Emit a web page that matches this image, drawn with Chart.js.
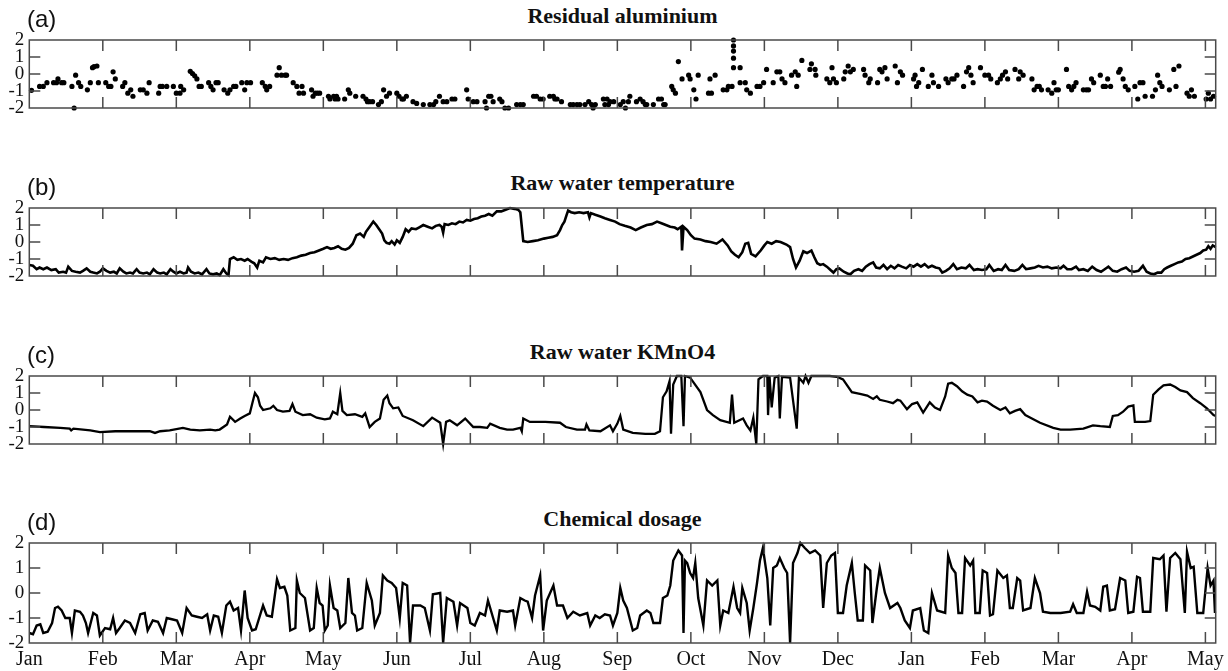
<!DOCTYPE html>
<html>
<head>
<meta charset="utf-8">
<script src="https://cdn.jsdelivr.net/npm/chart.js@4.4.0/dist/chart.umd.min.js"></script>
<style>
  body { margin: 0; background: #fff; width: 1228px; height: 671px; overflow: hidden; position: relative; }
  canvas { position: absolute; left: 0; }
  .title { position: absolute; left: 29.3px; width: 1186.4px; text-align: center; font: bold 22px "Liberation Serif", "Times New Roman", serif; line-height: 22px; color: #111; }
  .tag { position: absolute; left: 27px; font: 24px "Liberation Sans", Arial, sans-serif; line-height: 24px; color: #111; }
</style>
</head>
<body>
<script>
// x = months since the first January, y = standardised value
var monthNames = ["Jan","Feb","Mar","Apr","May","Jun","Jul","Aug","Sep","Oct","Nov","Dec","Jan","Feb","Mar","Apr","May"];
var yTicks = [-2, -1, 0, 1, 2];
var titles = ["Residual aluminium", "Raw water temperature", "Raw water KMnO4", "Chemical dosage"];
var tags = ["(a)", "(b)", "(c)", "(d)"];

var alumPoints = [[0.03,-0.96],[0.14,-0.73],[0.19,-0.73],[0.24,-0.51],[0.33,-0.51],[0.37,-0.51],[0.39,-0.29],[0.44,-0.51],[0.47,-0.51],[0.58,-0.73],[0.61,-2.0],[0.63,-0.07],[0.67,-0.51],[0.70,-0.73],[0.79,-0.93],[0.83,-0.51],[0.86,0.37],[0.88,0.43],[0.92,0.47],[0.94,-0.51],[1.04,-0.51],[1.08,-0.73],[1.11,-0.73],[1.14,0.13],[1.17,-0.29],[1.27,-0.73],[1.30,-0.51],[1.34,-1.13],[1.38,-0.93],[1.41,-1.31],[1.51,-0.93],[1.55,-0.93],[1.60,-1.13],[1.63,-0.51],[1.76,-1.13],[1.78,-0.73],[1.81,-0.73],[1.87,-0.73],[1.96,-0.73],[2.00,-1.13],[2.05,-1.13],[2.06,-0.73],[2.10,-0.93],[2.19,0.16],[2.22,0.03],[2.25,-0.11],[2.28,-0.29],[2.31,-0.73],[2.34,-0.73],[2.44,-0.51],[2.47,-0.73],[2.50,-0.93],[2.54,-0.51],[2.57,-0.51],[2.65,-0.93],[2.70,-1.13],[2.73,-0.93],[2.78,-0.73],[2.81,-0.73],[2.89,-0.51],[2.93,-0.93],[2.96,-0.51],[3.01,-0.51],[3.17,-0.51],[3.21,-0.73],[3.23,-0.93],[3.27,-0.73],[3.37,-0.07],[3.40,0.37],[3.43,-0.07],[3.48,-0.07],[3.50,-0.07],[3.59,-0.51],[3.64,-0.73],[3.67,-1.13],[3.71,-0.73],[3.73,-1.13],[3.84,-0.93],[3.86,-1.31],[3.89,-1.13],[3.92,-1.13],[3.95,-1.13],[4.07,-1.31],[4.09,-1.47],[4.14,-1.31],[4.16,-1.47],[4.18,-1.31],[4.20,-1.47],[4.29,-1.47],[4.34,-0.93],[4.36,-1.13],[4.44,-1.31],[4.54,-1.31],[4.58,-1.47],[4.60,-1.63],[4.63,-1.63],[4.67,-1.63],[4.75,-1.80],[4.79,-1.63],[4.82,-0.93],[4.86,-1.31],[4.90,-1.13],[5.00,-1.13],[5.03,-1.31],[5.07,-1.47],[5.09,-1.47],[5.13,-1.31],[5.22,-1.63],[5.27,-1.73],
  [5.36,-1.8],[5.45,-1.8],[5.50,-1.8],[5.53,-1.63],[5.58,-1.31],[5.63,-1.63],[5.68,-1.63],[5.75,-1.47],[5.79,-1.47],[5.95,-0.93],[5.97,-1.47],[6.04,-1.63],[6.09,-1.63],[6.20,-1.63],[6.22,-2.0],[6.25,-1.31],[6.28,-1.31],[6.31,-1.63],[6.40,-1.47],[6.43,-1.63],[6.47,-2.0],[6.52,-2.0],[6.63,-1.8],[6.68,-1.8],[6.72,-1.8],[6.86,-1.31],[6.90,-1.31],[6.95,-1.47],[6.99,-1.47],[7.08,-1.31],[7.13,-1.31],[7.15,-1.47],[7.18,-1.47],[7.24,-1.63],[7.36,-1.8],[7.40,-1.8],[7.45,-1.8],[7.49,-1.8],[7.56,-1.8],[7.61,-1.63],[7.65,-1.8],[7.67,-2.0],[7.70,-1.8],[7.81,-1.47],[7.83,-1.8],[7.86,-1.47],[7.88,-1.8],[7.90,-1.63],[7.95,-1.63],[8.04,-1.8],[8.08,-1.63],[8.11,-2.0],[8.15,-1.63],[8.17,-1.31],[8.26,-1.63],[8.31,-1.47],[8.35,-1.63],[8.38,-1.8],[8.40,-1.8],[8.49,-1.8],[8.56,-1.47],[8.60,-1.47],[8.63,-1.8],[8.65,-1.8],[8.74,-0.73],[8.76,-0.93],[8.79,-1.13],[8.83,0.73],[8.88,-0.29],[8.97,-0.07],[8.99,-0.29],[9.04,-0.93],[9.07,-1.47],[9.10,-0.07],[9.24,-1.13],[9.26,-0.29],[9.28,-1.13],[9.33,-0.07],[9.44,-0.93],[9.49,-0.93],[9.51,-0.73],[9.56,-0.73],[9.58,2.0],[9.58,1.65],[9.58,1.35],[9.58,0.93],[9.58,0.37],[9.67,0.37],[9.67,-0.51],[9.74,-0.51],[9.76,-0.93],[9.81,-1.13],[9.90,-0.73],[9.94,-0.73],[9.99,-0.51],[10.03,0.27],[10.12,-0.51],[10.17,0.13],[10.21,0.13],[10.24,-0.29],[10.28,-0.51],[10.37,-0.07],[10.42,0.13],[10.44,-0.73],[10.46,-0.07],
  [10.51,0.8],[10.62,0.27],[10.64,0.6],[10.69,0.27],[10.70,-0.07],[10.85,-0.29],[10.89,-0.51],[10.92,0.37],[10.94,-0.29],[10.98,-0.51],[11.08,-0.29],[11.10,0.13],[11.14,0.47],[11.17,0.13],[11.21,0.27],[11.35,0.27],[11.37,-0.07],[11.42,-0.51],[11.44,-0.29],[11.54,-0.51],[11.57,0.27],[11.60,0.13],[11.64,0.37],[11.67,-0.29],[11.78,0.47],[11.81,-0.51],[11.85,0.13],[11.88,-0.07],[12.03,-0.29],[12.05,-0.07],[12.07,-0.73],[12.10,-0.51],[12.15,0.27],[12.23,-0.73],[12.28,-0.07],[12.30,-0.51],[12.37,-0.73],[12.47,-0.29],[12.50,-0.51],[12.55,-0.29],[12.58,-0.29],[12.62,-0.07],[12.71,-0.73],[12.75,0.13],[12.78,0.37],[12.81,-0.07],[12.84,-0.51],[12.94,0.37],[13.00,-0.07],[13.05,-0.07],[13.08,-0.29],[13.17,-0.51],[13.21,-0.29],[13.24,-0.07],[13.28,0.13],[13.31,-0.29],[13.41,0.27],[13.46,-0.29],[13.48,0.13],[13.52,-0.07],[13.64,-0.29],[13.67,-0.93],[13.71,-0.73],[13.74,-0.73],[13.77,-0.93],[13.86,-0.93],[13.91,-1.13],[13.94,-0.51],[13.97,-0.93],[14.00,-0.93],[14.11,0.27],[14.14,-0.73],[14.18,-0.93],[14.21,-0.73],[14.24,-0.51],[14.34,-0.93],[14.38,-0.93],[14.41,-0.93],[14.45,-0.29],[14.48,-0.51],[14.57,-0.07],[14.61,-0.73],[14.64,-0.73],[14.67,-0.29],[14.71,-0.73],[14.82,0.11],[14.84,0.27],[14.88,-0.29],[14.91,-0.73],[14.95,-0.93],[15.04,-0.73],[15.08,-1.47],[15.11,-0.51],[15.15,-0.51],[15.18,-1.31],[15.28,-1.31],[15.32,-0.93],[15.35,-0.07],[15.38,-0.51],[15.41,-0.73],[15.51,-0.93],[15.57,0.27],[15.60,-0.73],[15.64,0.47],[15.75,-1.13],[15.78,-1.31],[15.81,-0.93],[15.85,-1.31],[16.01,-1.47],[16.04,-1.13],[16.07,-1.47],[16.11,-1.31]];

var tempPoints = [[0,-1.35],[0.05,-1.4],[0.1,-1.6],[0.14,-1.5],[0.19,-1.6],[0.24,-1.5],[0.3,-1.65],[0.36,-1.6],[0.4,-1.8],[0.46,-1.75],[0.5,-1.8],[0.53,-1.45],[0.58,-1.7],[0.63,-1.75],[0.69,-1.8],[0.73,-1.7],[0.78,-1.55],[0.83,-1.75],[0.87,-1.8],[0.92,-1.85],[0.96,-1.75],[1.0,-1.55],[1.05,-1.7],[1.1,-1.8],[1.15,-1.75],[1.19,-1.85],[1.23,-1.55],[1.28,-1.75],[1.32,-1.85],[1.37,-1.8],[1.41,-1.85],[1.46,-1.6],[1.5,-1.8],[1.55,-1.85],[1.6,-1.8],[1.64,-1.9],[1.69,-1.6],[1.74,-1.8],[1.78,-1.85],[1.83,-1.8],[1.87,-1.9],[1.92,-1.6],[1.96,-1.75],[2.0,-1.85],[2.05,-1.75],[2.1,-1.85],[2.14,-1.8],[2.16,-1.5],[2.2,-1.75],[2.25,-1.85],[2.3,-1.8],[2.35,-1.9],[2.41,-1.6],[2.45,-1.85],[2.5,-1.9],[2.55,-1.85],[2.59,-1.95],[2.64,-1.6],[2.68,-1.85],[2.71,-1.95],[2.73,-1.0],[2.78,-0.9],[2.83,-1.05],[2.88,-1.0],[2.93,-1.1],[2.97,-1.0],[3.02,-1.15],[3.06,-1.25],[3.1,-1.5],[3.13,-1.1],[3.18,-1.2],[3.22,-0.9],[3.28,-1.0],[3.34,-0.95],[3.4,-1.05],[3.46,-1.0],[3.52,-1.05],[3.58,-0.95],[3.64,-0.9],[3.7,-0.8],[3.76,-0.75],[3.82,-0.65],[3.88,-0.6],[3.94,-0.5],[4.0,-0.4],[4.05,-0.3],[4.1,-0.4],[4.15,-0.35],[4.2,-0.25],[4.25,-0.4],[4.3,-0.45],[4.35,-0.35],[4.4,-0.1],[4.45,0.4],[4.5,0.5],[4.55,0.3],[4.58,0.6],[4.63,0.9],[4.68,1.2],[4.72,1.0],[4.76,0.75],[4.8,0.5],[4.83,0.1],[4.86,-0.05],[4.9,-0.1],[4.93,0.05],[4.97,-0.15],[5.0,0.1],[5.04,-0.05],[5.08,0.3],[5.12,0.75],[5.16,0.6],[5.2,0.8],[5.26,0.75],[5.3,0.85],[5.36,1.0],[5.42,0.9],[5.48,0.8],[5.53,0.95],[5.58,1.0],[5.61,0.9],[5.63,0.55],[5.65,1.05],[5.7,1.0],[5.75,1.1],[5.8,1.05],[5.85,1.2],[5.9,1.15],[5.95,1.3],[6.0,1.25],[6.05,1.35],[6.1,1.4],[6.15,1.5],[6.2,1.55],[6.25,1.65],[6.3,1.55],[6.36,1.8],[6.42,1.8],[6.48,1.9],[6.54,2.0],[6.6,1.95],[6.65,1.9],[6.68,1.75],[6.72,0.05],[6.78,0.0],[6.85,0.05],[6.92,0.1],[7.0,0.2],[7.06,0.25],[7.12,0.3],[7.18,0.4],[7.22,0.7],[7.25,1.0],[7.28,1.2],[7.31,1.6],[7.33,1.85],[7.37,1.75],[7.42,1.7],[7.48,1.75],[7.54,1.7],[7.6,1.75],[7.62,1.45],[7.64,1.7],[7.7,1.6],[7.77,1.5],[7.83,1.4],[7.9,1.3],[7.97,1.2],[8.03,1.05],[8.1,0.95],[8.18,0.85],[8.25,0.7],[8.32,0.85],[8.4,1.0],[8.47,1.05],[8.54,1.2],[8.6,1.1],[8.66,1.0],[8.72,0.9],[8.78,0.85],[8.82,0.75],[8.87,0.9],[8.88,-0.5],[8.9,0.9],[8.95,0.7],[9.0,0.4],[9.05,0.2],[9.13,0.15],[9.2,0.05],[9.27,0.0],[9.35,-0.1],[9.43,0.15],[9.5,-0.2],[9.55,-0.55],[9.6,-0.75],[9.65,-0.9],[9.7,-0.6],[9.74,-0.1],[9.78,-0.05],[9.82,-0.7],[9.88,-0.85],[9.95,-0.5],[10.0,-0.2],[10.04,0.0],[10.1,-0.1],[10.16,0.05],[10.22,0.0],[10.3,-0.15],[10.35,-0.3],[10.39,-1.0],[10.43,-1.5],[10.48,-1.1],[10.53,-0.55],[10.58,-0.65],[10.64,-0.5],[10.68,-0.9],[10.72,-1.25],[10.76,-1.35],[10.8,-1.3],[10.85,-1.45],[10.9,-1.65],[10.94,-1.8],[10.98,-1.6],[11.02,-1.55],[11.08,-1.75],[11.13,-1.85],[11.17,-1.9],[11.22,-1.7],[11.28,-1.6],[11.33,-1.7],[11.38,-1.45],[11.43,-1.3],[11.48,-1.2],[11.52,-1.5],[11.57,-1.55],[11.62,-1.35],[11.67,-1.6],[11.72,-1.4],[11.77,-1.55],[11.82,-1.35],[11.87,-1.45],[11.93,-1.55],[11.98,-1.35],[12.03,-1.45],[12.08,-1.3],[12.13,-1.45],[12.18,-1.3],[12.23,-1.5],[12.28,-1.4],[12.33,-1.5],[12.38,-1.55],[12.42,-1.8],[12.47,-1.7],[12.52,-1.55],[12.57,-1.3],[12.62,-1.6],[12.68,-1.5],[12.74,-1.55],[12.79,-1.35],[12.85,-1.65],[12.9,-1.6],[12.96,-1.65],[13.02,-1.6],[13.06,-1.35],[13.12,-1.7],[13.18,-1.6],[13.23,-1.65],[13.28,-1.35],[13.33,-1.65],[13.4,-1.7],[13.46,-1.6],[13.51,-1.35],[13.56,-1.6],[13.62,-1.55],[13.68,-1.5],[13.73,-1.4],[13.79,-1.5],[13.85,-1.45],[13.91,-1.55],[13.97,-1.5],[14.03,-1.55],[14.07,-1.4],[14.12,-1.6],[14.18,-1.6],[14.24,-1.45],[14.28,-1.65],[14.34,-1.6],[14.4,-1.7],[14.46,-1.45],[14.52,-1.65],[14.58,-1.75],[14.63,-1.6],[14.68,-1.45],[14.74,-1.7],[14.8,-1.75],[14.86,-1.6],[14.92,-1.5],[14.97,-1.7],[15.03,-1.75],[15.09,-1.7],[15.15,-1.4],[15.2,-1.75],[15.25,-1.85],[15.3,-1.9],[15.35,-1.8],[15.4,-1.8],[15.44,-1.6],[15.48,-1.5],[15.53,-1.4],[15.58,-1.3],[15.63,-1.2],[15.68,-1.15],[15.73,-1.0],[15.78,-0.95],[15.83,-0.85],[15.88,-0.75],[15.93,-0.65],[15.97,-0.5],[16.01,-0.45],[16.04,-0.25],[16.07,-0.4],[16.1,-0.2],[16.14,-0.3]];

var kmno4Points = [[0,-0.95],[0.2,-1.0],[0.42,-1.05],[0.55,-1.1],[0.57,-1.2],[0.6,-1.1],[0.83,-1.2],[0.96,-1.3],[1.17,-1.25],[1.41,-1.25],[1.64,-1.25],[1.71,-1.35],[1.78,-1.25],[1.91,-1.2],[2.09,-1.05],[2.19,-1.15],[2.32,-1.2],[2.46,-1.15],[2.53,-1.2],[2.59,-1.15],[2.69,-0.85],[2.73,-0.4],[2.8,-0.7],[2.87,-0.5],[2.93,-0.35],[3.0,-0.2],[3.04,0.5],[3.07,1.0],[3.11,0.75],[3.14,0.25],[3.18,0.0],[3.28,0.1],[3.32,0.25],[3.37,0.0],[3.45,-0.1],[3.54,-0.05],[3.58,0.35],[3.62,-0.1],[3.72,-0.3],[3.82,-0.25],[3.91,-0.45],[4.02,-0.55],[4.09,-0.5],[4.13,-0.1],[4.19,-0.25],[4.23,1.0],[4.26,-0.05],[4.32,-0.3],[4.43,-0.25],[4.53,-0.4],[4.57,-0.2],[4.63,-1.0],[4.7,-0.7],[4.77,-0.5],[4.82,0.6],[4.87,0.85],[4.9,0.4],[4.95,0.1],[5.02,0.15],[5.08,-0.35],[5.22,-0.6],[5.36,-0.95],[5.48,-0.45],[5.59,-0.75],[5.63,-2.0],[5.67,-0.7],[5.72,-0.6],[5.82,-0.9],[5.93,-0.5],[6.04,-1.0],[6.13,-1.0],[6.23,-1.05],[6.27,-0.8],[6.4,-1.05],[6.5,-1.15],[6.58,-1.15],[6.68,-1.05],[6.7,-1.25],[6.72,-0.5],[6.81,-0.7],[7.02,-0.7],[7.22,-0.75],[7.3,-1.0],[7.45,-1.15],[7.56,-1.15],[7.58,-0.85],[7.62,-1.2],[7.77,-1.25],[7.9,-0.9],[7.94,-1.25],[8.0,-0.8],[8.04,-0.35],[8.08,-1.15],[8.21,-1.35],[8.38,-1.4],[8.51,-1.4],[8.58,-1.25],[8.62,0.75],[8.67,1.1],[8.71,1.7],[8.73,-1.4],[8.76,1.5],[8.81,2.0],[8.87,2.0],[8.9,-0.95],[8.92,2.0],[8.99,1.9],[9.13,1.05],[9.22,0.0],[9.3,-0.3],[9.4,-0.6],[9.53,-0.75],[9.56,0.9],[9.59,-0.75],[9.71,-0.5],[9.76,-0.9],[9.81,-1.2],[9.85,-0.45],[9.89,-2.0],[9.92,1.8],[9.98,2.0],[10.04,2.0],[10.05,-0.3],[10.07,2.0],[10.1,0.15],[10.14,1.9],[10.19,2.0],[10.21,-0.5],[10.24,1.95],[10.35,1.9],[10.44,-1.1],[10.47,1.9],[10.53,1.6],[10.56,2.0],[10.6,1.6],[10.64,2.0],[10.89,2.0],[10.99,1.95],[11.07,1.8],[11.19,1.05],[11.3,0.95],[11.4,0.85],[11.48,0.65],[11.53,0.8],[11.57,0.6],[11.67,0.5],[11.75,0.4],[11.81,0.6],[11.85,0.55],[11.94,0.05],[12.01,0.35],[12.08,0.45],[12.16,-0.15],[12.25,0.45],[12.32,0.15],[12.39,0.0],[12.46,0.8],[12.5,1.55],[12.55,1.6],[12.62,1.4],[12.69,1.1],[12.76,0.9],[12.83,0.8],[12.9,0.45],[12.96,0.55],[13.03,0.5],[13.11,0.25],[13.21,0.0],[13.28,0.15],[13.34,-0.2],[13.41,-0.05],[13.48,0.05],[13.55,-0.3],[13.62,-0.45],[13.75,-0.75],[13.93,-1.05],[14.03,-1.15],[14.16,-1.15],[14.34,-1.1],[14.47,-0.9],[14.57,-0.95],[14.7,-1.0],[14.74,-0.35],[14.81,-0.3],[14.88,-0.1],[14.95,0.2],[15.02,0.27],[15.04,-0.7],[15.18,-0.7],[15.25,-0.65],[15.29,0.9],[15.36,1.2],[15.43,1.45],[15.52,1.5],[15.59,1.35],[15.66,1.15],[15.75,1.05],[15.83,0.7],[15.93,0.4],[16.02,0.1],[16.11,-0.3],[16.14,-0.35]];

var dosePoints = [[0,-1.6],[0.05,-1.65],[0.1,-1.3],[0.15,-1.25],[0.19,-1.6],[0.25,-1.55],[0.31,-1.2],[0.35,-0.6],[0.39,-0.55],[0.44,-0.7],[0.49,-1.0],[0.55,-1.0],[0.58,-1.6],[0.62,-0.7],[0.69,-0.75],[0.73,-0.9],[0.77,-1.2],[0.8,-1.6],[0.87,-0.8],[0.92,-0.9],[0.96,-1.7],[1.03,-1.4],[1.1,-1.45],[1.14,-1.0],[1.18,-1.6],[1.23,-1.4],[1.3,-1.1],[1.37,-1.2],[1.44,-1.6],[1.51,-0.85],[1.57,-0.8],[1.61,-1.5],[1.68,-1.1],[1.75,-1.15],[1.82,-1.6],[1.87,-1.0],[1.94,-1.05],[2.01,-1.1],[2.08,-1.6],[2.14,-0.6],[2.21,-0.9],[2.28,-0.95],[2.35,-1.0],[2.42,-0.85],[2.46,-1.5],[2.51,-0.9],[2.57,-0.95],[2.62,-1.6],[2.68,-0.5],[2.73,-0.35],[2.78,-0.7],[2.84,-0.6],[2.88,-1.5],[2.93,0.1],[2.97,-1.0],[3.03,-1.5],[3.08,-1.45],[3.18,-0.5],[3.23,-0.9],[3.3,-0.95],[3.37,0.55],[3.41,0.2],[3.47,0.25],[3.51,-0.1],[3.55,-1.5],[3.62,-1.4],[3.64,0.5],[3.68,0.0],[3.75,-0.2],[3.82,-1.5],[3.87,-1.4],[3.91,0.2],[3.95,-0.4],[3.99,-0.5],[4.02,-1.5],[4.06,-1.3],[4.09,0.3],[4.14,-0.6],[4.19,-0.7],[4.23,-1.4],[4.3,-1.2],[4.34,0.6],[4.39,-0.8],[4.43,-0.9],[4.46,-1.5],[4.53,-1.4],[4.59,0.4],[4.66,-0.3],[4.7,-1.3],[4.77,-0.8],[4.81,0.7],[4.87,0.5],[4.93,0.4],[4.99,0.2],[5.04,-1.0],[5.08,0.4],[5.14,0.3],[5.18,-2.0],[5.22,-0.5],[5.32,-0.5],[5.38,-0.6],[5.45,-1.5],[5.49,-0.05],[5.59,0.0],[5.63,-2.0],[5.68,-0.2],[5.77,-0.35],[5.82,-1.3],[5.86,-0.4],[5.96,-0.6],[6.0,-1.2],[6.06,-1.3],[6.13,-0.8],[6.2,-0.9],[6.24,-0.3],[6.31,-1.0],[6.36,-1.5],[6.4,-0.7],[6.5,-0.75],[6.58,-0.7],[6.61,-1.3],[6.68,-0.2],[6.74,-0.3],[6.78,-0.35],[6.84,-1.0],[6.88,-0.1],[6.95,0.7],[6.99,-1.5],[7.04,-0.3],[7.13,0.3],[7.18,-0.5],[7.26,-0.5],[7.32,-1.0],[7.4,-0.75],[7.49,-0.9],[7.59,-0.8],[7.63,-1.3],[7.7,-0.9],[7.76,-1.0],[7.83,-0.85],[7.9,-0.9],[7.94,-1.3],[8.0,-0.8],[8.04,0.2],[8.08,-0.3],[8.13,-0.6],[8.21,-1.5],[8.27,-1.4],[8.31,-0.9],[8.4,-0.7],[8.45,-0.8],[8.49,-1.2],[8.58,-1.2],[8.62,-0.2],[8.68,-0.1],[8.72,0.3],[8.76,1.3],[8.83,1.7],[8.88,1.5],[8.9,-1.6],[8.92,1.3],[8.95,1.2],[8.99,0.8],[9.03,0.6],[9.06,1.2],[9.1,-0.2],[9.17,-1.3],[9.22,0.5],[9.29,0.3],[9.36,0.5],[9.4,-1.3],[9.44,-0.7],[9.51,-0.8],[9.58,0.25],[9.63,-0.6],[9.67,-0.8],[9.7,0.2],[9.76,-0.4],[9.8,-1.5],[9.85,-0.6],[9.9,0.4],[9.94,1.3],[9.98,1.8],[10.04,0.6],[10.08,-1.3],[10.12,1.0],[10.17,1.1],[10.21,1.4],[10.27,1.0],[10.31,0.8],[10.35,-2.0],[10.39,1.2],[10.45,1.6],[10.49,2.0],[10.55,1.8],[10.62,1.6],[10.69,1.7],[10.76,1.5],[10.8,-0.6],[10.85,1.2],[10.91,1.5],[10.96,1.6],[11.0,-0.8],[11.07,-0.8],[11.12,0.3],[11.19,1.2],[11.23,0.0],[11.27,-1.1],[11.34,-1.1],[11.37,1.1],[11.44,0.9],[11.47,-1.2],[11.53,0.2],[11.57,1.0],[11.64,0.0],[11.71,-0.6],[11.81,-0.4],[11.85,-0.6],[11.91,-1.1],[11.98,-1.4],[12.02,-0.7],[12.12,-0.6],[12.17,-1.5],[12.23,-1.6],[12.28,0.0],[12.35,-0.7],[12.46,-0.8],[12.5,1.5],[12.55,1.0],[12.6,0.8],[12.64,-0.8],[12.69,-0.8],[12.73,1.4],[12.8,1.1],[12.84,1.3],[12.87,-0.8],[12.93,-0.8],[12.97,0.9],[13.03,0.8],[13.07,-0.9],[13.11,-0.85],[13.17,0.9],[13.25,0.6],[13.3,0.7],[13.34,-0.6],[13.38,-0.6],[13.44,0.6],[13.48,0.5],[13.52,-0.7],[13.62,-0.6],[13.68,0.6],[13.75,0.0],[13.79,-0.75],[13.89,-0.8],[14.03,-0.8],[14.16,-0.75],[14.2,-0.45],[14.25,-0.8],[14.34,-0.8],[14.39,0.05],[14.43,-0.5],[14.5,-0.55],[14.57,-0.7],[14.61,0.25],[14.66,0.3],[14.7,-0.7],[14.77,-0.65],[14.84,0.6],[14.91,0.5],[14.95,-0.8],[15.02,-0.75],[15.07,0.65],[15.11,0.6],[15.15,-0.75],[15.25,-0.75],[15.29,1.4],[15.38,1.35],[15.43,1.5],[15.47,-0.75],[15.52,1.4],[15.59,1.6],[15.66,1.35],[15.72,-0.8],[15.75,1.65],[15.8,1.0],[15.84,1.05],[15.89,-0.8],[15.97,-0.8],[16.03,1.0],[16.07,0.3],[16.11,0.5],[16.13,-0.8]];

// layout of the four stacked panels (page px of each plot's top edge)
var panelTops = [40, 207.7, 376, 543.3];
var serif = '"Liberation Serif", "Times New Roman", serif';

function toXY(pts) {
  return pts.map(function(p) { return {x: p[0], y: p[1]}; });
}

// frame with inward ticks on all four sides, like the original plot
var frameTicks = {
  id: 'frameTicks',
  afterDraw: function(chart) {
    var ctx = chart.ctx, a = chart.chartArea;
    var xs = chart.scales.x, ys = chart.scales.y;
    ctx.save();
    ctx.strokeStyle = '#4a4a4a';
    ctx.lineWidth = 1.5;
    ctx.strokeRect(a.left, a.top, a.right - a.left, a.bottom - a.top);
    ctx.beginPath();
    for (var m = 1; m < monthNames.length; m++) {
      var px = xs.getPixelForValue(m);
      ctx.moveTo(px, a.top); ctx.lineTo(px, a.top + 11);
      ctx.moveTo(px, a.bottom); ctx.lineTo(px, a.bottom - 11);
    }
    [-1, 0, 1].forEach(function(v) {
      var py = ys.getPixelForValue(v);
      ctx.moveTo(a.left, py); ctx.lineTo(a.left + 11, py);
      ctx.moveTo(a.right, py); ctx.lineTo(a.right - 11, py);
    });
    ctx.stroke();
    ctx.restore();
  }
};

function makePanel(i, dataset) {
  var last = (i == 3);
  var top = panelTops[i];

  var cv = document.createElement('canvas');
  cv.width = 1228;
  cv.height = last ? 144 : 124;
  cv.style.top = (top - 12) + 'px';
  document.body.appendChild(cv);

  var t = document.createElement('div');
  t.className = 'title';
  t.style.top = (top - 35.5) + 'px';
  t.textContent = titles[i];
  document.body.appendChild(t);

  var g = document.createElement('div');
  g.className = 'tag';
  g.style.top = (top - 33) + 'px';
  g.textContent = tags[i];
  document.body.appendChild(g);

  return new Chart(cv, {
    type: 'scatter',
    data: { datasets: [dataset] },
    plugins: [frameTicks],
    options: {
      responsive: false,
      animation: false,
      devicePixelRatio: 1,
      layout: { padding: { top: 12, bottom: last ? 0 : 12, left: 0, right: 12.3 } },
      plugins: { legend: { display: false }, tooltip: { enabled: false } },
      scales: {
        x: {
          type: 'linear', min: 0, max: 16.14,
          display: last,
          grid: { display: false, drawTicks: false },
          border: { display: false },
          afterBuildTicks: function(s) { s.ticks = monthNames.map(function(n, k) { return {value: k}; }); },
          ticks: {
            autoSkip: false, maxRotation: 0, padding: 5, color: '#111',
            font: { family: serif, size: 20 },
            callback: function(v) { return monthNames[v]; }
          },
          afterFit: function(s) { s.height = 32; s.paddingLeft = 0; s.paddingRight = 0; }
        },
        y: {
          type: 'linear', min: -2, max: 2,
          grid: { display: false, drawTicks: false },
          border: { display: false },
          afterBuildTicks: function(s) { s.ticks = yTicks.map(function(v) { return {value: v}; }); },
          ticks: { autoSkip: false, padding: 5, color: '#111', font: { family: serif, size: 19 } },
          afterFit: function(s) { s.width = 29.3; s.paddingTop = 0; s.paddingBottom = 0; }
        }
      }
    }
  });
}

function lineSet(pts, w) {
  return {
    data: toXY(pts),
    showLine: true,
    borderColor: '#000',
    borderWidth: w,
    pointRadius: 0,
    tension: 0,
    clip: false
  };
}

makePanel(0, {
  data: toXY(alumPoints),
  showLine: false,
  pointRadius: 2.6,
  pointBackgroundColor: '#000',
  pointBorderWidth: 0,
  clip: false
});
makePanel(1, lineSet(tempPoints, 2.6));
makePanel(2, lineSet(kmno4Points, 2.3));
makePanel(3, lineSet(dosePoints, 2.4));
</script>
</body>
</html>
